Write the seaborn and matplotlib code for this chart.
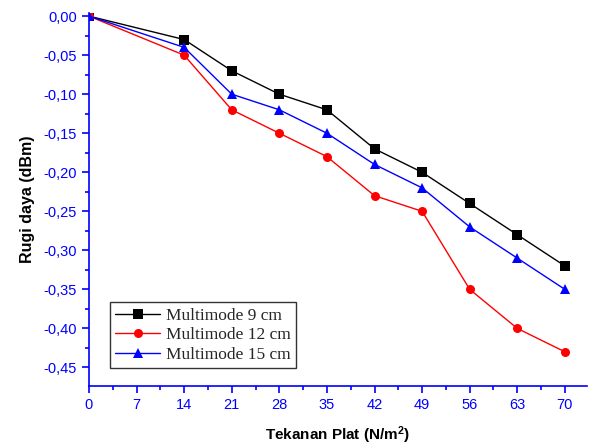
import numpy as np
import pandas as pd
import matplotlib.pyplot as plt
import seaborn as sns
from matplotlib.ticker import MultipleLocator, FuncFormatter

# data
tekanan = [0, 14, 21, 28, 35, 42, 49, 56, 63, 70]
rugi_9cm = [0.00, -0.03, -0.07, -0.10, -0.12, -0.17, -0.20, -0.24, -0.28, -0.32]
rugi_12cm = [0.00, -0.05, -0.12, -0.15, -0.18, -0.23, -0.25, -0.35, -0.40, -0.43]
rugi_15cm = [0.00, -0.04, -0.10, -0.12, -0.15, -0.19, -0.22, -0.27, -0.31, -0.35]
labels = ["Multimode 9 cm", "Multimode 12 cm", "Multimode 15 cm"]

df = pd.concat([
    pd.DataFrame({"x": tekanan, "y": rugi_9cm, "seri": labels[0]}),
    pd.DataFrame({"x": tekanan, "y": rugi_12cm, "seri": labels[1]}),
    pd.DataFrame({"x": tekanan, "y": rugi_15cm, "seri": labels[2]}),
])

sns.set_style("ticks")
plt.rcParams["font.family"] = ["Liberation Sans", "DejaVu Sans"]
plt.rcParams["mathtext.fontset"] = "custom"
plt.rcParams["mathtext.bf"] = "Liberation Sans:bold"

fig = plt.figure(figsize=(5.89, 4.48), dpi=100)
ax = fig.add_axes([0.151, 0.138, 0.845, 0.833])

palette = {labels[0]: "black", labels[1]: "red", labels[2]: "blue"}
markers = {labels[0]: "s", labels[1]: "o", labels[2]: "^"}
sns.lineplot(data=df, x="x", y="y", hue="seri", style="seri", palette=palette,
             markers=markers, dashes=False, markersize=6.5, linewidth=1,
             markeredgewidth=0, ax=ax)

ax.set_xlim(0, 73.2)
ax.set_ylim(-0.474, 0.004)
ax.xaxis.set_major_locator(MultipleLocator(7))
ax.xaxis.set_minor_locator(MultipleLocator(3.5))
ax.yaxis.set_major_locator(MultipleLocator(0.05))
ax.yaxis.set_minor_locator(MultipleLocator(0.025))
ax.yaxis.set_major_formatter(FuncFormatter(lambda v, p: f"{v:.2f}".replace(".", ",").replace("-0,00", "0,00")))

for s in ["top", "right"]:
    ax.spines[s].set_visible(False)
for s in ["left", "bottom"]:
    ax.spines[s].set_color("blue")
    ax.spines[s].set_linewidth(1.2)
ax.tick_params(which="both", direction="out", colors="blue", labelsize=10.5, width=1.2)
ax.tick_params(which="major", length=5)
ax.tick_params(which="minor", length=3)
for lbl in ax.get_xticklabels() + ax.get_yticklabels():
    lbl.set_color("blue")

ax.set_ylabel("Rugi daya (dBm)", fontsize=11.5, fontweight="bold", color="black", labelpad=6)
ax.set_xlabel("Tekanan Plat (N/m$\\mathbf{^2}$)", fontsize=11, fontweight="heavy", color="black", labelpad=9)

leg = ax.legend(loc="lower left", bbox_to_anchor=(0.025, 0.025), frameon=True, fancybox=False,
                prop={"family": "Liberation Serif", "size": 12.5}, handlelength=2.6,
                borderpad=0.3, labelspacing=0.2, handletextpad=0.3)
leg.get_frame().set_edgecolor("black")
leg.get_frame().set_linewidth(1)

fig.savefig("out.png", dpi=100)
